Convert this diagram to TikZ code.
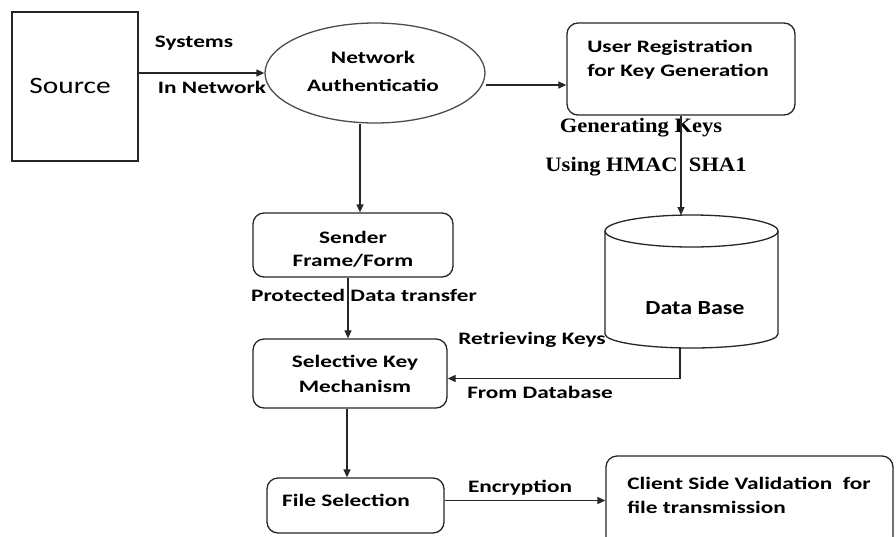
\documentclass[tikz,border=0pt]{standalone}
\usepackage{fontspec}
\setmainfont{Liberation Serif}
\setsansfont{Carlito}
\usetikzlibrary{arrows.meta,shapes.geometric,calc}
\begin{document}
\begin{tikzpicture}[x=1pt,y=1pt,
  line/.style={draw=black!85, line width=1.3pt},
  arr/.style={line, -{Triangle[length=8pt,width=7pt]}},
  box/.style={line, rounded corners=11pt, inner sep=0, minimum width=#1},
  lbl/.style={font=\sffamily\bfseries\fontsize{17.5}{20}\selectfont, inner sep=0, xscale=1.33},
  sbl/.style={font=\rmfamily\bfseries\fontsize{20.5}{24}\selectfont, inner sep=0, xscale=1.1},
  big/.style={font=\sffamily\fontsize{23.5}{27}\selectfont, inner sep=0, xscale=1.25}
]
\useasboundingbox (0,0) rectangle (896,-536);
\fill[white] (0,0) rectangle (896,-536);

% shapes
\node[line, rectangle, minimum width=126pt, minimum height=149pt, inner sep=0] (src) at (75,-86.5) {};
\node[line, ellipse, draw=black!70, minimum width=220pt, minimum height=100pt, inner sep=0] (auth) at (375,-73) {};
\node[box=228pt, minimum height=92pt] (ureg) at (681,-69) {};
\node[box=200pt, minimum height=64pt] (sender) at (353,-245) {};
\node[box=194pt, minimum height=69pt] (sel) at (350,-373.5) {};
\node[box=177pt, minimum height=55pt] (file) at (355.5,-505.5) {};
\node[box=287pt, minimum height=110pt] (client) at (749.5,-511) {};

% database cylinder
\node[inner sep=0, minimum width=173pt, minimum height=133pt] (db) at (691.5,-281.5) {};
\coordinate (dbtop) at (681,-215);
\coordinate (dbbot) at (680,-348);
\draw[line] (605,-231) -- (605,-334) arc[start angle=180, end angle=360, x radius=86.5, y radius=14] -- (778,-231);
\draw[line] (691.5,-231) ellipse[x radius=86.5, y radius=16];

% texts
\node[big] (tsrc) at (70,-86) {Source};
\node[lbl] (tnet1) at (373,-57) {Network};
\node[lbl] (tnet2) at (373,-85) {Authenticatio};
\node[lbl, anchor=west] (tur1) at (587,-48) {User Registration};
\node[lbl, anchor=west] (tur2) at (587,-72) {for Key Generation};
\node[lbl] (ts1) at (353,-237) {Sender};
\node[lbl] (ts2) at (353,-261) {Frame/Form};
\node[lbl] (tsk1) at (355,-363) {Selective Key};
\node[lbl] (tsk2) at (355,-386) {Mechanism};
\node[font=\sffamily\bfseries\fontsize{20}{24}\selectfont, inner sep=0, xscale=1.2] (tdb) at (695,-308) {Data Base};
\node[lbl] (tfs) at (346,-500) {File Selection};
\node[lbl, anchor=west] (tc1) at (627,-483) {Client Side Validation\ \ for};
\node[lbl, anchor=west] (tc2) at (627,-507) {file transmission};

% edge labels
\node[lbl] (lsys) at (194,-43) {Systems};
\node[lbl] (lin) at (212,-87) {In Network};
\node[sbl] (lgen) at (641,-128) {Generating Keys};
\node[sbl] (lhmac) at (646,-167) {Using HMAC\ \ SHA1};
\node[lbl] (lprot) at (364,-295) {Protected Data transfer};
\node[lbl, anchor=west] (lret) at (458,-340) {Retrieving Keys};
\node[lbl, anchor=west] (lfrom) at (467,-392) {From Database};
\node[lbl] (lenc) at (520,-488) {Encryption};

% connectors
\draw[arr] (src.east |- auth.west) -- (auth.west);
\draw[arr] ([yshift=-12pt]auth.east) -- ([yshift=-12pt]auth.east -| ureg.west);
\draw[arr] ([xshift=-15pt]auth.south) -- ([xshift=-15pt]auth.south |- sender.north);
\draw[arr] (ureg.south) -- (ureg.south |- dbtop);
\draw[arr] ([xshift=-5pt]sender.south) -- ([xshift=-5pt]sender.south |- sel.north);
\draw[arr] (dbbot) |- ([yshift=-5pt]sel.east);
\draw[arr] ([xshift=-3pt]sel.south) -- ([xshift=-3pt]sel.south |- file.north);
\draw[arr] ([yshift=5pt]file.east) -- ([yshift=5pt]file.east -| client.west);
\end{tikzpicture}
\end{document}
